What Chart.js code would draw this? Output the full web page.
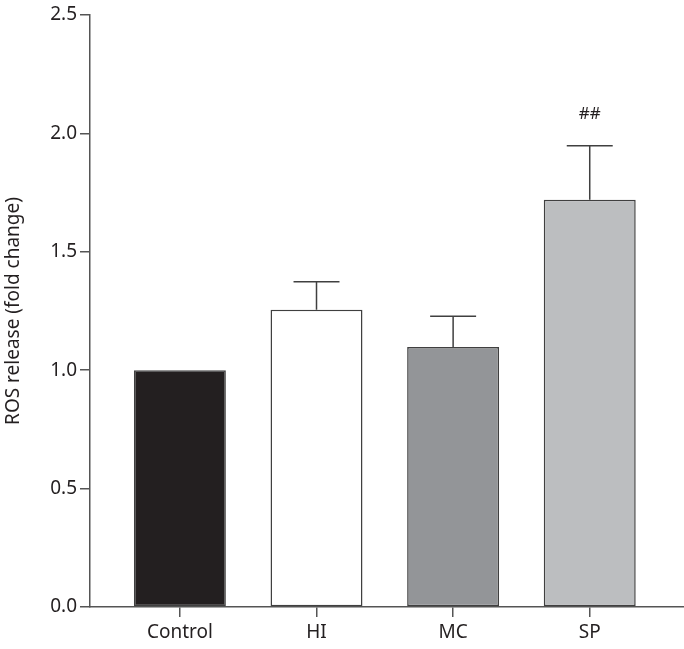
<!DOCTYPE html>
<html>
<head>
<meta charset="utf-8">
<script src="https://cdn.jsdelivr.net/npm/chart.js@4"></script>
<style>
  html, body { margin: 0; padding: 0; background: #fff; }
  #wrap { width: 684px; height: 649px; }
</style>
</head>
<body>
<div id="wrap"><canvas id="rosChart"></canvas></div>
<script>
'use strict';

// data
const groups = ['Control', 'HI', 'MC', 'SP'];
const rosMean = [1.0, 1.255, 1.098, 1.72];
const rosErr = [0, 0.118, 0.13, 0.228];
const marks = ['', '', '', '##'];
const barColors = ['#231f20', '#ffffff', '#939598', '#bcbec0'];

const AXIS = '#555555';
const FONT = "'Noto Sans', sans-serif";

/* error bars + significance marks */
const errPlugin = {
    id: 'errBars',
    afterDatasetsDraw(chart) {
        const ctx = chart.ctx;
        const y = chart.scales.y;
        const meta = chart.getDatasetMeta(0);
        ctx.save();
        ctx.strokeStyle = '#404040';
        ctx.lineWidth = 1.5;
        meta.data.forEach((bar, i) => {
            const x = bar.x;
            const half = bar.width / 4;
            if (rosErr[i] > 0) {
                const y0 = y.getPixelForValue(rosMean[i]);
                const y1 = y.getPixelForValue(rosMean[i] + rosErr[i]);
                ctx.beginPath();
                ctx.moveTo(x, y0); ctx.lineTo(x, y1);
                ctx.moveTo(x - half, y1); ctx.lineTo(x + half, y1);
                ctx.stroke();
            }
            if (marks[i]) {
                const yt = y.getPixelForValue(rosMean[i] + rosErr[i]);
                ctx.fillStyle = '#231f20';
                ctx.font = '17px ' + FONT;
                ctx.textAlign = 'center';
                ctx.textBaseline = 'middle';
                ctx.fillText(marks[i], x, yt - 32);
            }
        });
        ctx.restore();
    }
};

new Chart(document.getElementById('rosChart'), {
    type: 'bar',
    data: {
        datasets: [{
            data: rosMean.map((v, i) => ({ x: i, y: v })),
            backgroundColor: barColors,
            borderColor: '#404040',
            borderWidth: 1.5,
            borderSkipped: false,
            categoryPercentage: 1,
            barPercentage: 0.673
        }]
    },
    options: {
        responsive: true,
        maintainAspectRatio: false,
        animation: false,
        layout: { padding: { top: 15, right: 0, left: 0, bottom: 0 } },
        plugins: { legend: { display: false }, tooltip: { enabled: false } },
        scales: {
            x: {
                type: 'linear',
                offset: false,
                min: -0.658,
                max: 3.69,
                afterBuildTicks: s => { s.ticks = groups.map((_, i) => ({ value: i })); },
                afterFit: s => { s.height = 42; },
                ticks: {
                    autoSkip: false,
                    maxRotation: 0,
                    color: '#231f20',
                    font: { family: FONT, size: 19 },
                    padding: 4,
                    callback: v => groups[v]
                },
                grid: {
                    offset: false, display: true, drawOnChartArea: false, drawTicks: true,
                    color: AXIS, tickColor: AXIS, tickLength: 10, lineWidth: 1.5, tickWidth: 1.5
                },
                border: { color: AXIS, width: 1.5 }
            },
            y: {
                min: 0,
                max: 2.5,
                afterFit: s => { s.width = 90; },
                ticks: {
                    stepSize: 0.5,
                    color: '#231f20',
                    font: { family: FONT, size: 19 },
                    padding: 3,
                    callback: v => v.toFixed(1)
                },
                grid: { drawOnChartArea: false, color: AXIS, tickLength: 10, lineWidth: 1.5 },
                border: { color: AXIS, width: 1.5 },
                title: {
                    display: true,
                    text: 'ROS release (fold change)',
                    color: '#231f20',
                    font: { family: FONT, size: 19 },
                    padding: { top: 2, bottom: 0 }
                }
            }
        }
    },
    plugins: [errPlugin]
});
</script>
</body>
</html>
